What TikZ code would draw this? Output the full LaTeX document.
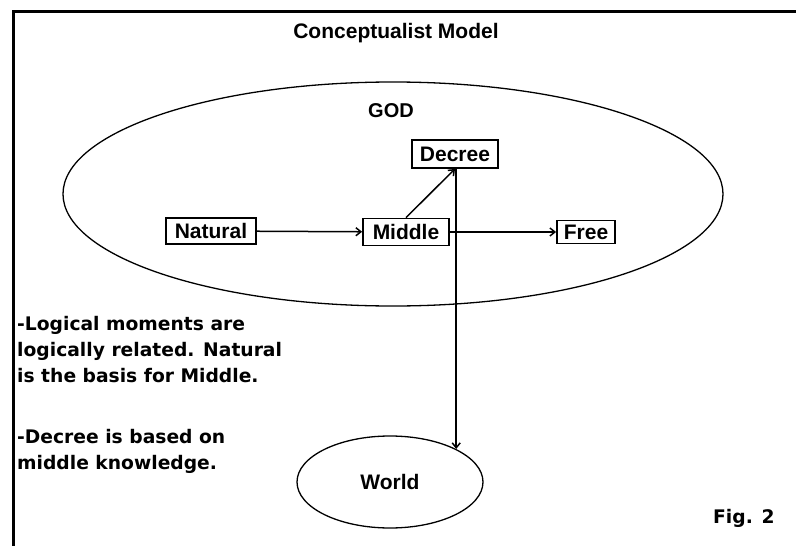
\documentclass[tikz,border=0pt]{standalone}
\usepackage{fontspec}
\setmainfont{Liberation Sans}
\newfontfamily\notefont{DejaVu Sans}
\usetikzlibrary{shapes.geometric,arrows.meta}

\tikzset{
  moment/.style={draw,line width=1.8pt,inner sep=0pt,font=\bfseries\fontsize{21}{21}\selectfont},
  realm/.style={draw,ellipse,line width=1.3pt,inner sep=0pt},
  link/.style={->,line width=1.5pt},
  note/.style={anchor=base west,inner sep=0pt,font=\notefont\bfseries\fontsize{18.7}{22}\selectfont},
  >={Straight Barb[length=5pt,width=8pt]}
}

\begin{document}
\begin{tikzpicture}[x=1pt,y=-1pt]
\useasboundingbox (0,0) rectangle (796,546);
% frame, only top and left show
\draw[line width=3pt] (13,546) -- (13,11.5) -- (796,11.5);
\node[anchor=base,font=\bfseries\fontsize{21}{21}\selectfont] (title) at (396,38) {Conceptualist Model};
% god and the world
\node[realm,minimum width=660pt,minimum height=224pt] (god) at (393,194) {};
\node[anchor=base,font=\bfseries\fontsize{20}{20}\selectfont] (godlabel) at (391,117) {GOD};
\node[realm,minimum width=186pt,minimum height=92pt,font=\bfseries\fontsize{21}{21}\selectfont] (world) at (390,482) {World};
% logical moments
\node[moment,minimum width=86pt,minimum height=28pt] (decree) at (455,154) {Decree};
\node[moment,minimum width=90pt,minimum height=26pt] (natural) at (211,231) {Natural};
\node[moment,minimum width=86pt,minimum height=27pt] (middle) at (406,232) {Middle};
\node[moment,minimum width=58pt,minimum height=23pt] (free) at (586,232) {Free};
\draw[link] (natural) -- (middle);
\draw[link] (middle) -- (free);
\draw[link] (middle.north) -- (decree.south);
\draw[link] (world.north east |- decree.south) -- (world.north east);
% notes
\node[note] (note1) at (17,330) {-Logical moments are};
\node[note] (note2) at (17,356.3) {logically related. Natural};
\node[note] (note3) at (17,382.6) {is the basis for Middle.};
\node[note] (note4) at (17,443) {-Decree is based on};
\node[note] (note5) at (17,469.3) {middle knowledge.};
\node[note] (fig) at (713,523) {Fig. 2};
\end{tikzpicture}
\end{document}
